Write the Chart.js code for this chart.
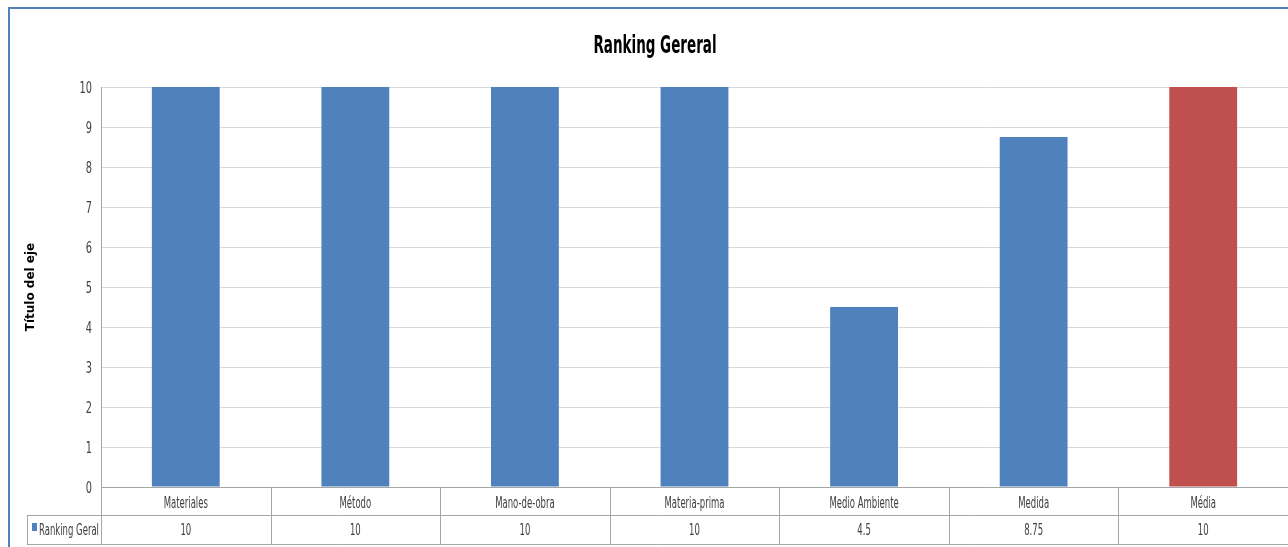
<!DOCTYPE html>
<html>
<head>
<meta charset="utf-8">
<script src="https://cdn.jsdelivr.net/npm/chart.js@4.4.1/dist/chart.umd.min.js"></script>
<style>
  html, body { margin: 0; padding: 0; background: #ffffff; overflow: hidden; width: 1288px; height: 547px; }
  #frame { position: absolute; left: 8px; top: 7px; width: 1300px; height: 560px;
           border-left: 2px solid #4f81bd; border-top: 2px solid #4f81bd; }
  #wrap { position: absolute; left: 0; top: 0; width: 1290px; height: 538px; }
</style>
</head>
<body>
<div id="frame"><div id="wrap"><canvas id="c" width="1290" height="538"></canvas></div></div>
<script>
const categories = ['Materiales', 'Método', 'Mano-de-obra', 'Materia-prima', 'Medio Ambiente', 'Medida', 'Média'];
const rankingGeral = [10, 10, 10, 10, 4.5, 8.75, 10];
const valueLabels = ['10', '10', '10', '10', '4.5', '8.75', '10'];
const barColors = ['#4f81bd', '#4f81bd', '#4f81bd', '#4f81bd', '#4f81bd', '#4f81bd', '#c0504d'];
const seriesName = 'Ranking Geral';
const chartTitle = 'Ranking Gereral';
const axisTitle = 'Título del eje';
const yTicks = [0, 1, 2, 3, 4, 5, 6, 7, 8, 9, 10];

const NARROW = '"DejaVu Sans Condensed", "Liberation Sans Narrow", sans-serif';

function squeezedText(ctx, text, x, y, sx, align) {
  ctx.save();
  ctx.translate(x, y);
  ctx.scale(sx, 1);
  ctx.textAlign = align;
  ctx.textBaseline = 'alphabetic';
  ctx.fillText(text, 0, 0);
  ctx.restore();
}

const textPlugin = {
  id: 'textAndTable',
  afterDraw(chart) {
    const ctx = chart.ctx;
    const area = chart.chartArea;
    const xs = chart.scales.x;
    const ys = chart.scales.y;
    const n = categories.length;
    const cw = (area.right - area.left) / n;
    const r1 = area.bottom, r2 = r1 + 28, r3 = r2 + 29;
    const legendLeft = 17;

    ctx.save();
    // title
    ctx.fillStyle = '#000000';
    ctx.font = 'bold 25px ' + NARROW;
    squeezedText(ctx, chartTitle, chart.width / 2, 44, 0.6, 'center');

    // y tick labels
    ctx.fillStyle = '#404040';
    ctx.font = '16px ' + NARROW;
    ys.ticks.forEach(t => {
      const y = ys.getPixelForValue(t.value);
      squeezedText(ctx, String(t.value), area.left - 9, y + 6, 0.68, 'right');
    });

    // table grid
    ctx.strokeStyle = '#a6a6a6';
    ctx.lineWidth = 1;
    ctx.beginPath();
    ctx.moveTo(area.left, r1 + 0.5); ctx.lineTo(area.right, r1 + 0.5);
    ctx.moveTo(legendLeft, r2 + 0.5); ctx.lineTo(area.right, r2 + 0.5);
    ctx.moveTo(legendLeft, r3 + 0.5); ctx.lineTo(area.right, r3 + 0.5);
    ctx.moveTo(legendLeft + 0.5, r2); ctx.lineTo(legendLeft + 0.5, r3);
    for (let i = 0; i <= n; i++) {
      const x = Math.round(xs.getPixelForValue(i) - cw / 2) + 0.5;
      ctx.moveTo(x, r1); ctx.lineTo(x, r3);
    }
    ctx.stroke();

    // table text
    ctx.fillStyle = '#404040';
    ctx.font = '15px ' + NARROW;
    for (let i = 0; i < n; i++) {
      const cx = xs.getPixelForValue(i);
      squeezedText(ctx, categories[i], cx, r1 + 21, 0.63, 'center');
      squeezedText(ctx, valueLabels[i], cx, r2 + 20, 0.63, 'center');
    }
    // legend entry
    ctx.fillStyle = barColors[0];
    ctx.fillRect(legendLeft + 5, r2 + 8, 5, 8);
    ctx.fillStyle = '#404040';
    squeezedText(ctx, seriesName, legendLeft + 12, r2 + 20, 0.63, 'left');
    ctx.restore();
  }
};

new Chart(document.getElementById('c'), {
  type: 'bar',
  data: {
    labels: categories,
    datasets: [{
      label: seriesName,
      data: rankingGeral,
      backgroundColor: barColors,
      borderWidth: 0,
      categoryPercentage: 1,
      barPercentage: 0.4
    }]
  },
  options: {
    responsive: false,
    animation: false,
    layout: { padding: { left: 0, right: 12, top: 78, bottom: 60 } },
    plugins: {
      legend: { display: false },
      tooltip: { enabled: false },
      title: { display: false }
    },
    scales: {
      x: { display: false },
      y: {
        min: 0, max: 10,
        afterBuildTicks(scale) { scale.ticks = yTicks.map(v => ({ value: v })); },
        afterFit(scale) { scale.width = 91; scale.paddingTop = 0; scale.paddingBottom = 0; },
        ticks: { display: false },
        grid: { color: '#d9d9d9', drawTicks: false },
        border: { color: '#a6a6a6' },
        title: {
          display: true,
          text: axisTitle,
          color: '#000000',
          font: { family: '"DejaVu Sans", sans-serif', size: 12, weight: 'bold' },
          padding: { top: 14, bottom: 0 }
        }
      }
    }
  },
  plugins: [textPlugin]
});
</script>
</body>
</html>
